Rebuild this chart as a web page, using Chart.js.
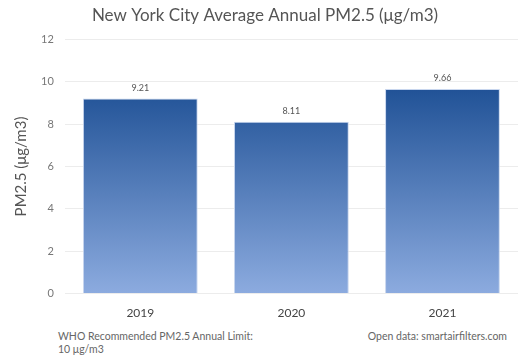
<!DOCTYPE html>
<html>
<head>
<meta charset="utf-8">
<script src="https://cdn.jsdelivr.net/npm/chart.js@4/dist/chart.umd.min.js"></script>
<style>
  html, body { margin: 0; padding: 0; background: #fff; }
  #wrap { position: relative; width: 524px; height: 359px; font-family: Lato, sans-serif; }
  #chart { position: absolute; left: 0; top: 0; }
  .note { position: absolute; font-size: 10.5px; color: #666; line-height: 13px; }
</style>
</head>
<body>
<div id="wrap">
  <canvas id="chart" width="524" height="324"></canvas>
  <div class="note" style="left:58px; top:330px;">WHO Recommended PM2.5 Annual Limit:<br>10 μg/m3</div>
  <div class="note" style="right:17px; top:330px;">Open data: smartairfilters.com</div>
</div>
<script>
// 데이터
var years = ['2019', '2020', '2021'];
var pmValues = [9.21, 8.11, 9.66];
var yTicks = [0, 2, 4, 6, 8, 10, 12];

// 막대 위에 값 표시
var valueLabels = {
	id : 'valueLabels',
	afterDatasetsDraw : function(chart) {
		var ctx = chart.ctx;
		var meta = chart.getDatasetMeta(0);
		ctx.save();
		ctx.font = '9px Lato, sans-serif';
		ctx.fillStyle = '#555';
		ctx.textAlign = 'center';
		ctx.textBaseline = 'bottom';
		meta.data.forEach(function(bar, i) {
			ctx.fillText(pmValues[i].toFixed(2), bar.x, bar.y - 6);
		});
		ctx.restore();
	}
};

var ctx = document.getElementById('chart').getContext('2d');
var chart = new Chart(ctx, {
	type : 'bar',
	data : {
		labels : years,
		datasets : [ {
			label : 'PM2.5',
			data : pmValues,
			backgroundColor : function(c) {
				var area = c.chart.chartArea;
				if (!area) return '#4a72b8';
				var y = c.chart.scales.y;
				var g = c.chart.ctx.createLinearGradient(0, y.getPixelForValue(10), 0, area.bottom);
				g.addColorStop(0, '#1d4f94');
				g.addColorStop(1, '#8cabdf');
				return g;
			},
			borderColor : '#c8d6ee',
			borderWidth : 1,
			barPercentage : 0.76,
			categoryPercentage : 1
		} ]
	},
	options : {
		responsive : false,
		animation : false,
		layout : { padding : { left : 12, right : 6, top : 0, bottom : 0 } },
		plugins : {
			legend : { display : false },
			tooltip : { enabled : false },
			title : {
				display : true,
				text : 'New York City Average Annual PM2.5 (μg/m3)',
				color : '#555',
				font : { family : 'Lato, sans-serif', size : 17, weight : 'normal' },
				padding : { top : 5, bottom : 14 }
			}
		},
		scales : {
			x : {
				grid : { display : false },
				border : { display : false },
				ticks : { color : '#444', font : { family : 'Lato, sans-serif', size : 12 }, padding : 4 }
			},
			y : {
				min : 0,
				max : 12,
				afterBuildTicks : function(axis) {
					axis.ticks = yTicks.map(function(v) { return { value : v }; });
				},
				grid : { color : '#ececec', drawTicks : false },
				border : { display : false },
				ticks : { color : '#777', font : { family : 'Lato, sans-serif', size : 11 }, padding : 11 },
				title : {
					display : true,
					text : 'PM2.5 (μg/m3)',
					color : '#555',
					font : { family : 'Lato, sans-serif', size : 15 },
					padding : { top : 0, bottom : 0 }
				}
			}
		}
	},
	plugins : [ valueLabels ]
});
</script>
</body>
</html>
